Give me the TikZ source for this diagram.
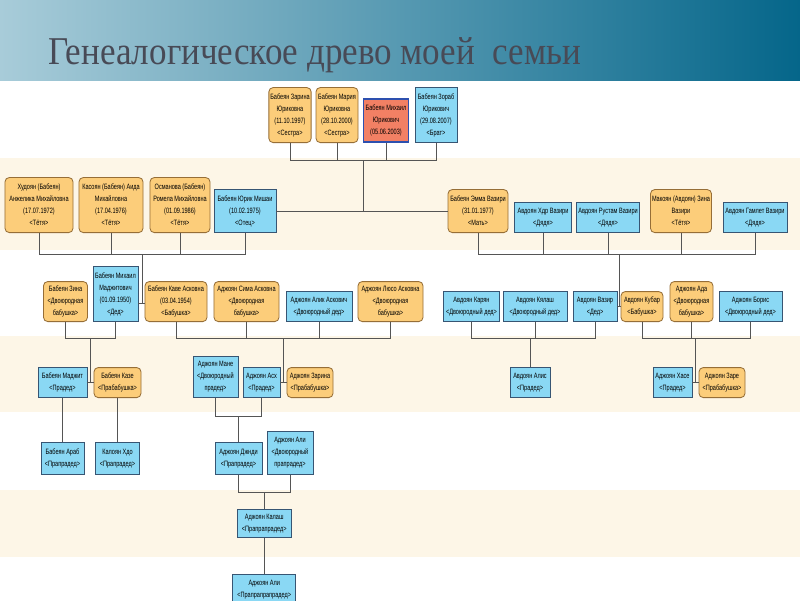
\documentclass[tikz,border=0pt]{standalone}
\usepackage{fontspec}
\newfontfamily\nodefont[FakeStretch=0.72]{Liberation Sans}
\newfontfamily\titlefont[FakeStretch=0.89]{Liberation Serif}
\usepackage{tikz}
\definecolor{bandCream}{RGB}{253,246,231}
\definecolor{womanOrange}{RGB}{252,205,122}
\definecolor{womanEdge}{RGB}{150,110,55}
\definecolor{manBlue}{RGB}{138,216,244}
\definecolor{manEdge}{RGB}{55,85,115}
\definecolor{selfRed}{RGB}{242,128,100}
\definecolor{selfEdge}{RGB}{45,80,175}
\definecolor{barLight}{RGB}{168,204,217}
\definecolor{barDark}{RGB}{5,102,138}
\definecolor{titleGray}{RGB}{72,74,86}
\definecolor{lineGray}{RGB}{85,85,85}

\begin{document}
\begin{tikzpicture}[x=0.025cm, y=-0.025cm,
    every node/.style={font=\nodefont\fontsize{5.5}{8.5}\selectfont, align=center, inner sep=1pt, anchor=south},
    person/.style={draw, line width=0.6pt, minimum width=#1*0.25mm},
    woman/.style={person=#1, fill=womanOrange, draw=womanEdge, rounded corners=3pt},
    man/.style={person=#1, fill=manBlue, draw=manEdge},
    myself/.style={person=#1, fill=selfRed, draw=selfEdge, line width=1.4pt},
    tall/.style={minimum height=#1*0.25mm},
    link/.style={draw=lineGray, line width=0.5pt}
  ]
  \useasboundingbox (0,0) rectangle (800,600);
  \clip (0,0) rectangle (800,600);
  \fill[white] (0,0) rectangle (800,600);
  % title bar
  \shade[left color=barLight, right color=barDark] (0,0) rectangle (800,80);
  \node[anchor=base west, font=\titlefont\fontsize{28}{30}\selectfont, text=titleGray, inner sep=0pt]
    (title) at (48,64) {Генеалогическое древо моей~ семьи};
  % generation bands
  \fill[bandCream] (0,158) rectangle (800,250);
  \fill[bandCream] (0,336) rectangle (800,412);
  \fill[bandCream] (0,490) rectangle (800,557);

  % me, sisters, brother
  \node[woman=41, tall=55] (s1) at (290,143) {Бабеян Зарина\\Юриковна\\(11.10.1997)\\<Сестра>};
  \node[woman=42, tall=55] (s2) at (337,143) {Бабеян Мария\\Юриковна\\(28.10.2000)\\<Сестра>};
  \node[myself=45, tall=43] (me) at (386,143) {Бабеян Михаил\\Юрикович\\(05.06.2003)};
  \node[man=42, tall=55] (br) at (436,143) {Бабеян Зораб\\Юрикович\\(29.08.2007)\\<Брат>};

  % parents, aunts, uncles
  \node[woman=68, tall=55] (t1) at (39,233) {Худоян (Бабеян)\\Анжелика Михайловна\\(17.07.1972)\\<Тётя>};
  \node[woman=64, tall=55] (t2) at (111,233) {Касоян (Бабеян) Аида\\Михайловна\\(17.04.1976)\\<Тётя>};
  \node[woman=60, tall=55] (t3) at (180,233) {Османова (Бабеян)\\Ромела Михайловна\\(01.09.1986)\\<Тётя>};
  \node[man=62, tall=43] (fa) at (245,233) {Бабеян Юрик Мишаи\\(10.02.1975)\\<Отец>};
  \node[woman=60, tall=43] (mo) at (478,233) {Бабеян Эмма Вазири\\(31.01.1977)\\<Мать>};
  \node[man=57, tall=30] (u1) at (543,233) {Авдоян Хдр Вазири\\<Дядя>};
  \node[man=60, tall=30] (u2) at (608,233) {Авдоян Рустам Вазири\\<Дядя>};
  \node[woman=61, tall=43] (t4) at (681,233) {Макоян (Авдоян) Зина\\Вазири\\<Тётя>};
  \node[man=64, tall=30] (u3) at (755,233) {Авдоян Гамлет Вазири\\<Дядя>};

  % grandparents
  \node[woman=44, tall=40] (zi) at (65.5,322) {Бабеян Зина\\<Двоюродная\\бабушка>};
  \node[man=45, tall=55] (dm) at (115.5,322) {Бабеян Михаил\\Маджитович\\(01.09.1950)\\<Дед>};
  \node[woman=62, tall=40] (bk) at (176,322) {Бабеян Каве Асковна\\(03.04.1954)\\<Бабушка>};
  \node[woman=65, tall=40] (si) at (246.5,322) {Аджоян Сима Асковна\\<Двоюродная\\бабушка>};
  \node[man=66, tall=30] (ak) at (319,322) {Аджоян Алик Аскович\\<Двоюродный дед>};
  \node[woman=65, tall=40] (lu) at (390.5,322) {Аджоян Люсо Асковна\\<Двоюродная\\бабушка>};
  \node[man=56, tall=30] (kr) at (471.5,322) {Авдоян Карян\\<Двоюродный дед>};
  \node[man=64, tall=30] (ky) at (535,322) {Авдоян Кялаш\\<Двоюродный дед>};
  \node[man=44, tall=30] (vz) at (595,322) {Авдоян Вазир\\<Дед>};
  \node[woman=42, tall=30] (ku) at (642,322) {Авдоян Кубар\\<Бабушка>};
  \node[woman=43, tall=40] (ad) at (691.5,322) {Аджоян Ада\\<Двоюродная\\бабушка>};
  \node[man=63, tall=30] (bo) at (750.5,322) {Аджоян Борис\\<Двоюродный дед>};

  % great-grandparents
  \node[man=49, tall=30] (md) at (62.5,398) {Бабеян Маджит\\<Прадед>};
  \node[woman=47, tall=30] (kz) at (117.5,398) {Бабеян Казе\\<Прабабушка>};
  \node[man=45, tall=41] (mn) at (215.5,398) {Аджоян Мане\\<Двоюродный\\прадед>};
  \node[man=37, tall=30] (ax) at (261.5,398) {Аджоян Асх\\<Прадед>};
  \node[woman=46, tall=30] (zr) at (310,398) {Аджоян Зарина\\<Прабабушка>};
  \node[man=40, tall=30] (ls) at (530,398) {Авдоян Алис\\<Прадед>};
  \node[man=39, tall=30] (hs) at (672.5,398) {Аджоян Хасе\\<Прадед>};
  \node[woman=46, tall=30] (zre) at (722,398) {Аджоян Заре\\<Прабабушка>};

  % older generations
  \node[man=43, tall=32] (ar) at (62.5,475) {Бабеян Араб\\<Прапрадед>};
  \node[man=44, tall=32] (hd) at (117.5,475) {Калоян Хдо\\<Прапрадед>};
  \node[man=47, tall=32] (dj) at (238.5,475) {Аджоян Джнди\\<Прапрадед>};
  \node[man=46, tall=43] (ali) at (290,475) {Аджоян Али\\<Двоюродный\\прапрадед>};
  \node[man=54, tall=28] (kl) at (264.25,538) {Аджоян Калаш\\<Прапрапрадед>};
  \node[man=63, tall=30, anchor=north] (al7) at (264.25,574) {Аджоян Али\\<Прапрапрапрадед>};

  % links: children to parents
  \coordinate (j1) at (363,160);
  \draw[link] (s1.south) |- (j1) (s2.south) |- (j1) (me.south) |- (j1) (br.south) |- (j1);
  \draw[link] (fa.east) -- (mo.west);
  \draw[link] (j1) -- (j1 |- fa.east);

  \coordinate (j2a) at (142.5,254);
  \coordinate (c3a) at (142.5,303);
  \draw[link] (t1.south) |- (j2a) (t2.south) |- (j2a) (t3.south) |- (j2a) (fa.south) |- (j2a);
  \draw[link] (dm.east |- c3a) -- (bk.west |- c3a);
  \draw[link] (j2a) -- (c3a);

  \coordinate (j2b) at (619,254);
  \draw[link] (mo.south) |- (j2b) (u1.south) |- (j2b) (u2.south) |- (j2b) (t4.south) |- (j2b) (u3.south) |- (j2b);
  \draw[link] (vz.east) -- (ku.west);
  \draw[link] (j2b) -- (j2b |- vz.east);

  \coordinate (j3a) at (90.5,338);
  \draw[link] (zi.south) |- (j3a) (dm.south) |- (j3a);
  \draw[link] (md.east) -- (kz.west);
  \draw[link] (j3a) -- (j3a |- md.east);

  \coordinate (j3b) at (283.5,338);
  \draw[link] (bk.south) |- (j3b) (si.south) |- (j3b) (ak.south) |- (j3b) (lu.south) |- (j3b);
  \draw[link] (ax.east) -- (zr.west);
  \draw[link] (j3b) -- (j3b |- ax.east);

  \coordinate (j3c) at (530,338);
  \draw[link] (kr.south) |- (j3c) (ky.south) |- (j3c) (vz.south) |- (j3c);
  \draw[link] (j3c) -- (ls.north);

  \coordinate (j3d) at (695.5,338);
  \draw[link] (ku.south) |- (j3d) (ad.south) |- (j3d) (bo.south) |- (j3d);
  \draw[link] (hs.east) -- (zre.west);
  \draw[link] (j3d) -- (j3d |- hs.east);

  \draw[link] (md.south) -- (ar.north);
  \draw[link] (kz.south) -- (hd.north);
  \coordinate (j4) at (238.5,416);
  \draw[link] (mn.south) |- (j4) (ax.south) |- (j4);
  \draw[link] (j4) -- (dj.north);

  \coordinate (j5) at (264.25,492);
  \draw[link] (dj.south) |- (j5) (ali.south) |- (j5);
  \draw[link] (j5) -- (kl.north);
  \draw[link] (kl.south) -- (al7.north);
\end{tikzpicture}
\end{document}
